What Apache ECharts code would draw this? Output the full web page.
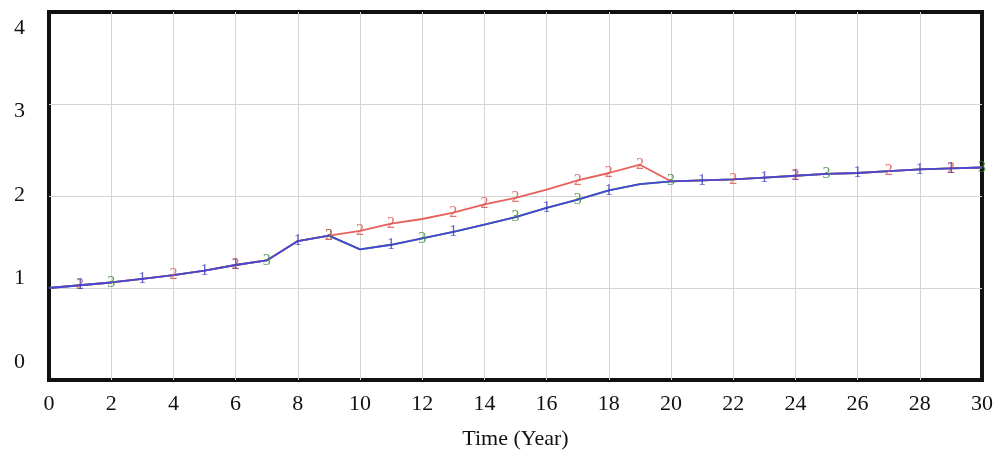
<!DOCTYPE html>
<html>
<head>
<meta charset="utf-8">
<script src="https://cdn.jsdelivr.net/npm/echarts@6/dist/echarts.min.js"></script>
<style>html,body{margin:0;padding:0;background:#fff}#c{width:1004px;height:460px}</style>
</head>
<body>
<div id="c"></div>
<script>
const years = [0,1,2,3,4,5,6,7,8,9,10,11,12,13,14,15,16,17,18,19,20,21,22,23,24,25,26,27,28,29,30];
const series1 = [1.00,1.03,1.06,1.10,1.14,1.19,1.25,1.30,1.51,1.57,1.42,1.47,1.54,1.61,1.69,1.77,1.87,1.96,2.06,2.13,2.16,2.17,2.18,2.20,2.22,2.24,2.25,2.27,2.29,2.30,2.31];
const series2 = [1.00,1.03,1.06,1.10,1.14,1.19,1.25,1.30,1.51,1.57,1.62,1.70,1.75,1.82,1.91,1.98,2.07,2.17,2.25,2.34,2.16,2.17,2.18,2.20,2.22,2.24,2.25,2.27,2.29,2.30,2.31];
const series3 = [1.00,1.03,1.06,1.10,1.14,1.19,1.25,1.30,1.51,1.57,1.42,1.47,1.54,1.61,1.69,1.77,1.87,1.96,2.06,2.13,2.16,2.17,2.18,2.20,2.22,2.24,2.25,2.27,2.29,2.30,2.31];
const marks1 = [1,3,5,6,8,11,13,16,18,21,23,24,26,28,29];
const marks2 = [1,4,6,9,10,11,13,14,15,17,18,19,22,24,27,29];
const marks3 = [2,7,9,12,15,17,20,25,30];
const xTicks = [0,2,4,6,8,10,12,14,16,18,20,22,24,26,28,30];
const yTicks = [0,1,2,3,4];
const xTitle = 'Time (Year)';

const FONT = 'Liberation Serif';
const colors = ['#4646d8', '#e8605a', '#3f9a3f'];
const markColors = ['#3a3ac0', '#d85048', '#3a8a3a'];
const pairs = arr => years.map((t,i)=>[t, arr[i]]);
const markPts = (arr, idx) => idx.map(i=>[years[i], arr[i]]);

const chart = echarts.init(document.getElementById('c'), null, {renderer:'canvas'});
const lineS = (name, arr, color, z) => ({
  name, type:'line', data: pairs(arr), xAxisIndex:0, yAxisIndex:0,
  symbol:'none', lineStyle:{color, width:1.8}, itemStyle:{color}, z, animation:false
});
const markS = (label, arr, idx, color, z) => ({
  type:'scatter', data: markPts(arr, idx), xAxisIndex:0, yAxisIndex:0,
  symbolSize:1, itemStyle:{color:'rgba(0,0,0,0)'}, z, animation:false,
  label:{show:true, position:'inside', formatter: label, color, fontFamily:FONT, fontSize:16}
});
chart.setOption({
  animation:false,
  grid:[
    {left:49, right:22, top:12, bottom:80, show:true, borderColor:'#111', borderWidth:4, backgroundColor:'#fff'},
    {left:49, right:22, top:28, bottom:98, show:false}
  ],
  xAxis:[
    {type:'value', gridIndex:0, min:0, max:30, interval:2,
     axisLine:{show:false}, axisTick:{show:false},
     axisLabel:{color:'#111', fontFamily:FONT, fontSize:22, margin:13, formatter: v => xTicks.includes(v) ? String(v) : ''},
     splitLine:{show:true, showMinLine:false, showMaxLine:false, lineStyle:{color:'#d4d4d4', width:1}},
     name: xTitle, nameLocation:'middle', nameGap:48, nameTextStyle:{color:'#111', fontFamily:FONT, fontSize:22}},
    {type:'value', gridIndex:1, min:0, max:30, show:false}
  ],
  yAxis:[
    {type:'value', gridIndex:0, min:0, max:4, interval:1,
     axisLine:{show:false}, axisTick:{show:false}, axisLabel:{show:false},
     splitLine:{show:true, showMinLine:false, showMaxLine:false, lineStyle:{color:'#d4d4d4', width:1}}},
    {type:'value', gridIndex:1, min:0, max:4, interval:1,
     axisLine:{show:false}, axisTick:{show:false}, splitLine:{show:false},
     axisLabel:{color:'#111', fontFamily:FONT, fontSize:22, margin:24, formatter: v => yTicks.includes(v) ? String(v) : ''}}
  ],
  series:[
    lineS('3', series3, colors[2], 2),
    lineS('2', series2, colors[1], 3),
    lineS('1', series1, colors[0], 4),
    markS('3', series3, marks3, markColors[2], 5),
    markS('2', series2, marks2, markColors[1], 6),
    markS('1', series1, marks1, markColors[0], 7)
  ]
});
</script>
</body>
</html>
